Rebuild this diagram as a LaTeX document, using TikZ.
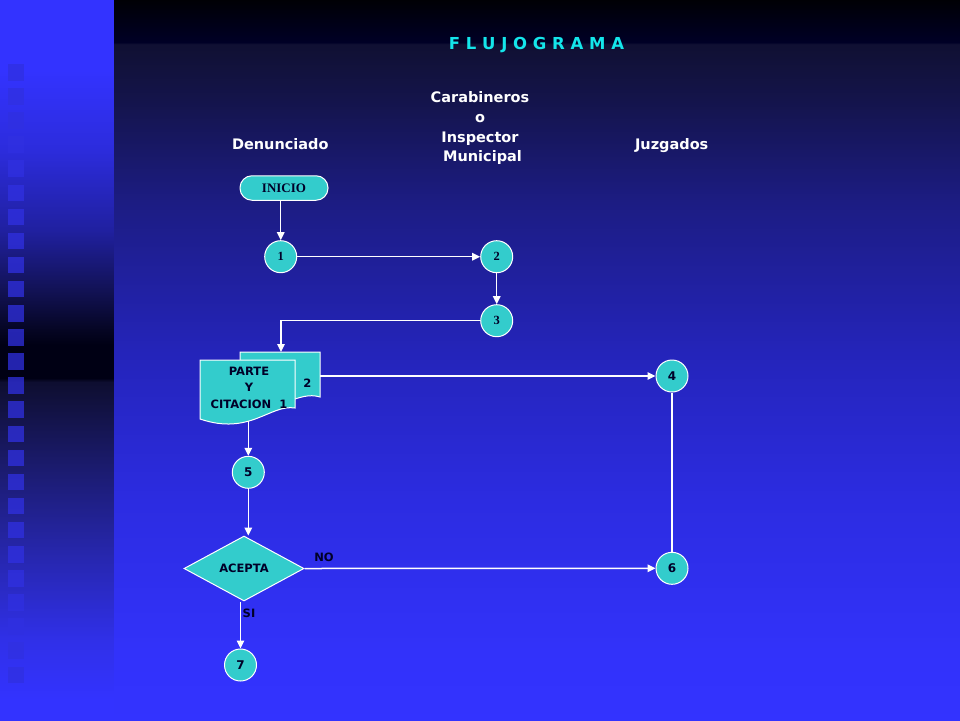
\documentclass[tikz,border=0pt]{standalone}
\usepackage{fontspec}
\setmainfont{DejaVu Sans}[BoldFont={DejaVu Sans Bold}]
\newfontfamily\timesb{Liberation Serif}[BoldFont={Liberation Serif Bold}]
\usetikzlibrary{arrows.meta,shapes.geometric}

\definecolor{turq}{RGB}{51,204,204}
\definecolor{ink}{RGB}{0,0,40}
\definecolor{cyantitle}{RGB}{20,230,235}
\definecolor{squareblue}{RGB}{48,48,225}

\definecolor{mA}{RGB}{0,0,5}
\definecolor{mB}{RGB}{0,0,38}
\definecolor{mC}{RGB}{16,16,50}
\definecolor{mD}{RGB}{20,20,75}
\definecolor{mE}{RGB}{28,28,130}
\definecolor{mF}{RGB}{36,36,185}
\definecolor{mG}{RGB}{44,44,225}
\definecolor{mH}{RGB}{50,50,250}
\definecolor{mI}{RGB}{51,51,255}

\definecolor{sA}{RGB}{51,51,255}
\definecolor{sB}{RGB}{44,44,220}
\definecolor{sC}{RGB}{32,32,160}
\definecolor{sD}{RGB}{18,18,85}
\definecolor{sE}{RGB}{5,5,35}
\definecolor{sF}{RGB}{0,0,20}
\definecolor{sG}{RGB}{14,14,48}
\definecolor{sH}{RGB}{26,26,105}
\definecolor{sI}{RGB}{38,38,170}
\definecolor{sJ}{RGB}{48,48,232}

\pgfdeclareverticalshading{mainbg}{100bp}{color(0bp)=(mI); color(25bp)=(mI);
  color(29.86bp)=(mH); color(40.28bp)=(mG); color(50.69bp)=(mF);
  color(61.11bp)=(mE); color(68.06bp)=(mD); color(71.95bp)=(mC);
  color(72.05bp)=(mB); color(75bp)=(mA); color(100bp)=(mA)}
\pgfdeclareverticalshading{stripbg}{100bp}{color(0bp)=(sA); color(26.39bp)=(sA);
  color(30.56bp)=(sJ); color(36.81bp)=(sI); color(43.06bp)=(sH);
  color(48.47bp)=(sG); color(48.75bp)=(sF); color(51.04bp)=(sF);
  color(52.08bp)=(sE); color(54.86bp)=(sD); color(59.03bp)=(sC);
  color(64.58bp)=(sB); color(70.14bp)=(sA); color(100bp)=(sA)}

\begin{document}
\begin{tikzpicture}[x=1pt,y=-1pt,
    circ/.style={circle,draw=white,line width=1pt,fill=turq,minimum size=32pt,
      inner sep=0pt,text=ink,font=\bfseries\fontsize{12}{12}\selectfont},
    serifnum/.style={font=\timesb\bfseries\fontsize{12.5}{12.5}\selectfont},
    startbox/.style={rectangle,rounded corners=12pt,draw=white,line width=1pt,fill=turq,
      minimum width=88pt,minimum height=24.5pt,inner sep=0pt,text=ink,
      font=\timesb\bfseries\fontsize{13}{13}\selectfont},
    decision/.style={diamond,draw=white,line width=1pt,fill=turq,minimum width=120pt,
      minimum height=65pt,inner sep=0pt,text=ink,font=\bfseries\fontsize{11.5}{11.5}\selectfont},
    docline/.style={draw=white,line width=1pt,fill=turq},
    doctext/.style={align=center,inner sep=0pt,text=ink,font=\bfseries\fontsize{11.5}{16.3}\selectfont},
    lbl/.style={inner sep=0pt,text=ink,font=\bfseries\fontsize{11.5}{11.5}\selectfont},
    head/.style={inner sep=0pt,text=white,font=\bfseries\fontsize{14.5}{19.7}\selectfont},
    flow/.style={draw=white,line width=1.5pt,-{Triangle[length=8pt,width=7.5pt]}},
    plain/.style={draw=white,line width=1.5pt}]

  \useasboundingbox (0,0) rectangle (960,720);
  % background
  \shade[shading=stripbg] (0,0) rectangle (114,720);
  \shade[shading=mainbg] (114,0) rectangle (960,720);
  \foreach \k in {0,...,25}
    \fill[squareblue,opacity=0.75] (8,{64+24.1*\k}) rectangle +(16,16.5);

  % titles
  \node[inner sep=0pt,text=cyantitle,font=\bfseries\fontsize{16.5}{16.5}\selectfont]
    (titulo) at (536.5,45) {F L U J O G R A M A};
  \node[head,anchor=base] (denunciado) at (280.3,149.3) {Denunciado};
  \node[head,align=center] (carabineros) at (480,128.4) {Carabineros\\o\\Inspector\\\ Municipal};
  \node[head,anchor=base] (juzgados) at (671.7,149.3) {Juzgados};

  % nodes
  \node[startbox] (inicio) at (284,188) {INICIO};
  \node[circ,serifnum] (1) at (280.7,256.7) {1};
  \node[circ,serifnum] (2) at (496.7,256.7) {2};
  \node[circ,serifnum] (3) at (496.7,320.7) {3};
  \draw[docline] (240,352) -- (320,352) -- (320,397) .. controls (298,390) and (280,414) .. (240,404) -- cycle;
  \draw[docline] (200,360) -- (295,360) -- (295,408) .. controls (270,404) and (250,436) .. (200,419) -- cycle;
  \node[doctext] (parte) at (249,387.8) {PARTE\\Y\\CITACION~~1};
  \node[doctext] (copia) at (307.3,383.3) {2};
  \coordinate (partetop) at (281,352);
  \coordinate (parteright) at (320,376);
  \coordinate (partebottom) at (248.3,421.4);
  \node[circ] (4) at (672,376) {4};
  \node[circ] (5) at (248.3,472.3) {5};
  \node[decision] (acepta) at (244,568.5) {ACEPTA};
  \node[circ] (6) at (672,568.3) {6};
  \node[circ] (7) at (240.5,665) {7};
  \node[lbl] (no) at (324,557.7) {NO};
  \node[lbl] (si) at (249,613.5) {SI};

  % connectors
  \begin{scope}[flow]
    \draw (inicio.south -| 1) -- (1);
    \draw (1) -- (2);
    \draw (2) -- (3);
    \draw (3) -| (partetop);
    \draw (parteright) -- (4);
    \draw (partebottom) -- (5);
    \draw (5) -- (5 |- acepta.north);
    \draw (acepta.east) -- (6);
    \draw (acepta.south -| 7) -- (7);
  \end{scope}
  \draw[plain] (4) -- (6);
\end{tikzpicture}
\end{document}
